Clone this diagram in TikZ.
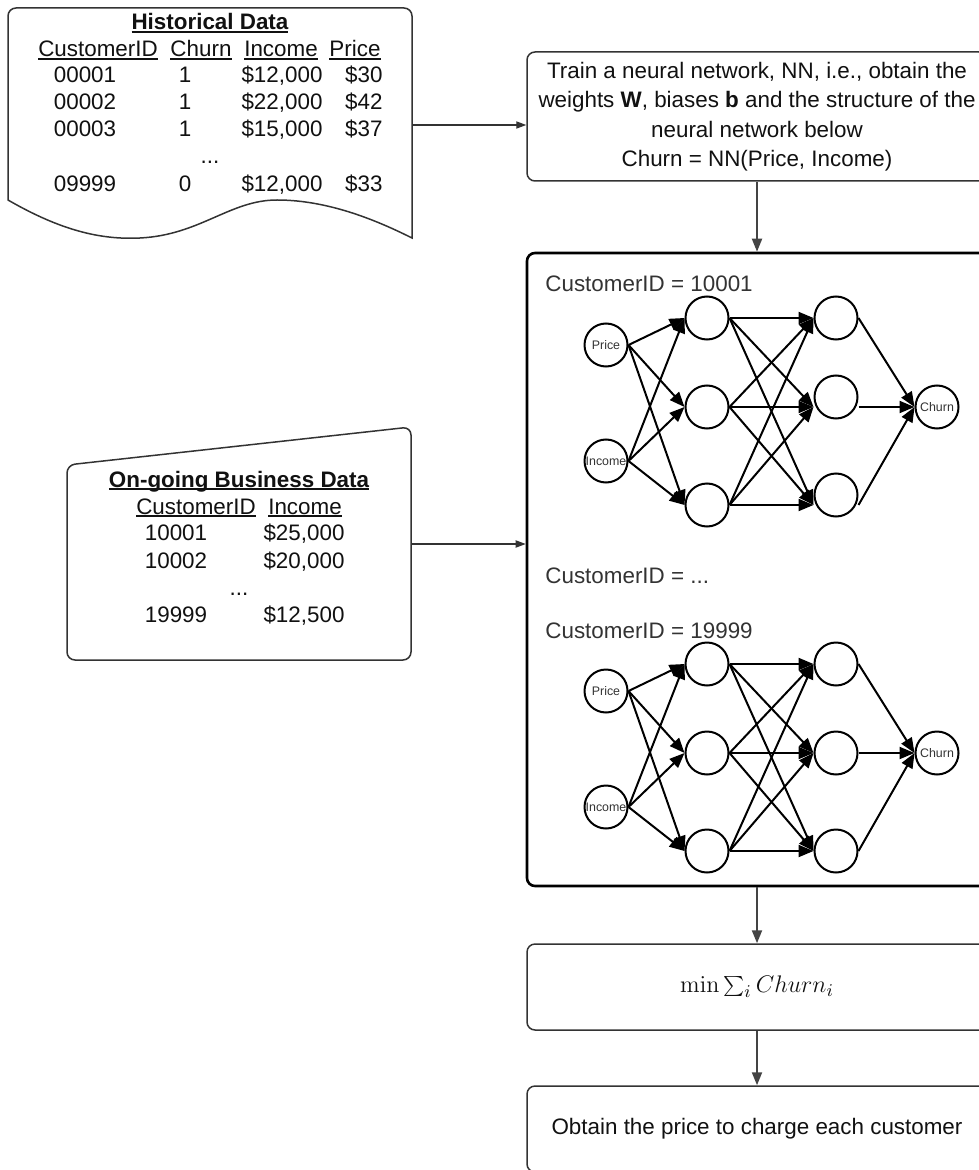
\documentclass[tikz,border=0pt]{standalone}
\usepackage[no-math]{fontspec}
\setmainfont{Liberation Sans}
\usetikzlibrary{arrows.meta}

\definecolor{ink}{HTML}{111111}
\definecolor{soft}{HTML}{333333}
\definecolor{wire}{HTML}{444444}

\newcommand\bodyfont{\fontsize{11.2}{13.5}\selectfont}
\newcommand\trainfont{\fontsize{11.2}{14.75}\selectfont}
\newcommand\unitfont{\fontsize{6.2}{7}\selectfont}
% underline drawn just under the baseline (crosses descenders)
\newcommand\ulin[2][0.65pt]{\setbox0\hbox{#2}\rlap{\vrule height -0.7pt depth \dimexpr0.7pt+#1\relax width \wd0}\box0}

\tikzset{
  txt/.style={inner sep=0pt, anchor=base, font=\bodyfont, text=ink},
  txtr/.style={txt, anchor=base east},
  flowbox/.style={draw=soft, line width=0.75pt, rounded corners=4pt, fill=white,
    minimum width=230pt, inner sep=0pt, font=\bodyfont, text=ink, align=center},
  unit/.style={circle, draw=black, line width=1pt, minimum size=21.5pt, inner sep=0pt,
    font=\unitfont, text=soft},
  nnarrow/.style={line width=1pt, -{Triangle[length=7.5pt,width=6pt]}},
  flowarrow/.style={draw=wire, line width=1pt, -{Triangle[length=6.5pt,width=5pt]}},
  feedarrow/.style={draw=soft, line width=0.6pt, -{Triangle[length=5pt,width=3.6pt]}},
  caption/.style={inner sep=0pt, anchor=base west, font=\bodyfont, text=soft},
}

% one small network: #1 prefix, #2 vertical offset, #3/#4 rows of the 2nd hidden layer
% (the links keep to the rows of the first hidden layer)
\newcommand\neuralnet[4]{%
  \node[unit] (#1-p) at (606,{#2+345}) {Price};
  \node[unit] (#1-i) at (606,{#2+461}) {Income};
  \node[unit] (#1-a1) at (707,{#2+318}) {};
  \node[unit] (#1-a2) at (707,{#2+407}) {};
  \node[unit] (#1-a3) at (707,{#2+505}) {};
  \node[unit] (#1-b1) at (836,{#2+318}) {};
  \node[unit] (#1-b2) at (836,{#2+#3}) {};
  \node[unit] (#1-b3) at (836,{#2+#4}) {};
  \node[unit] (#1-o) at (937,{#2+407}) {Churn};
  \foreach \s in {p,i}{\foreach \t in {a1,a2,a3}{\draw[nnarrow] (#1-\s.east) -- (#1-\t.west);}}
  \foreach \s in {a1,a2,a3}{\foreach \t/\r in {b1/a1,b2/a2,b3/a3}{%
      \draw[nnarrow] (#1-\s.east) -- (#1-\t.west |- #1-\r);}}
  \foreach \s/\r in {b1/a1,b2/a2,b3/a3}{\draw[nnarrow] (#1-\s.east |- #1-\r) -- (#1-o.west);}
}

\begin{document}
\begin{tikzpicture}[x=0.5pt, y=-0.5pt]
\useasboundingbox (0,0) rectangle (978,1170);

% ---------- historical data (document shape) ----------
\draw[draw=soft, line width=0.75pt, fill=white]
  (8,200) [rounded corners=4pt] -- (8,8) -- (412,8) [sharp corners] -- (412,238)
  .. controls (380,222) and (330,200) .. (277,200)
  .. controls (230,200) and (200,235) .. (140,238)
  .. controls (100,240) and (60,230) .. (8,200) -- cycle;
\node[txt] (h-title) at (210,30) {\ulin[0.95pt]{\bfseries Historical Data}};
\node[txt] (h-id) at (98,57) {\ulin{CustomerID}};
\node[txt] (h-churn) at (201,57) {\ulin{Churn}};
\node[txt] (h-income) at (281,57) {\ulin{Income}};
\node[txt] (h-price) at (355,57) {\ulin{Price}};
\foreach \y/\id/\c/\inc/\p [count=\k] in
  {83/00001/1/12{,}000/30, 110/00002/1/22{,}000/42, 137/00003/1/15{,}000/37, 192/09999/0/12{,}000/33}{
  \node[txt] (h-id-\k) at (85,\y) {\id};
  \node[txt] (h-churn-\k) at (185,\y) {\c};
  \node[txt] (h-inc-\k) at (282,\y) {\$\inc};
  \node[txtr] (h-price-\k) at (383,\y) {\$\p};
}
\node[txt] (h-dots) at (210,164) {...};
\coordinate (hist-out) at (412,125);

% ---------- on-going business data (manual input shape) ----------
\draw[draw=soft, line width=0.75pt, fill=white, rounded corners=4pt]
  (67,465) -- (411,427) -- (411,660) -- (67,660) -- cycle;
\node[txt] (o-title) at (239,487) {\ulin[0.95pt]{\bfseries On-going Business Data}};
\node[txt] (o-id) at (196,514) {\ulin{CustomerID}};
\node[txt] (o-income) at (305,514) {\ulin{Income}};
\foreach \y/\id/\inc [count=\k] in {540/10001/25{,}000, 568/10002/20{,}000, 622/19999/12{,}500}{
  \node[txt] (o-id-\k) at (176,\y) {\id};
  \node[txt] (o-inc-\k) at (304,\y) {\$\inc};
}
\node[txt] (o-dots) at (239,595) {...};
\coordinate (ong-out) at (411,544);

% ---------- process boxes ----------
\node[flowbox, minimum height=64.5pt, font=\trainfont] (train) at (757,116.5)
  {Train a neural network, NN, i.e., obtain the\\
   weights \textbf{W}, biases \textbf{b} and the structure of the\\
   neural network below\\
   Churn = NN(Price, Income)};
\node[draw=black, line width=1.3pt, rounded corners=4pt, minimum width=230pt,
  minimum height=316.5pt, inner sep=0pt] (nnbox) at (757,569.5) {};
\node[flowbox, minimum height=43pt, font=\fontsize{12.5}{14}\selectfont] (opt) at (757,987)
  {$\min\sum_i Churn_i$};
\node[flowbox, minimum height=43pt] (price) at (757,1129)
  {Obtain the price to charge each customer};

% ---------- networks ----------
\node[caption] (cap1) at (545,292) {CustomerID = 10001};
\neuralnet{n1}{0}{397}{495}
\node[caption] (cap2) at (545,583) {CustomerID = ...};
\node[caption] (cap3) at (545,638) {CustomerID = 19999};
\neuralnet{n2}{346}{407}{505}

% ---------- connectors ----------
\draw[feedarrow] (hist-out) -- (hist-out -| train.west);
\draw[feedarrow] (ong-out) -- (ong-out -| nnbox.west);
\draw[flowarrow] (train.south) -- (nnbox.north);
\draw[flowarrow] (nnbox.south) -- (opt.north);
\draw[flowarrow] (opt.south) -- (price.north);
\end{tikzpicture}
\end{document}
